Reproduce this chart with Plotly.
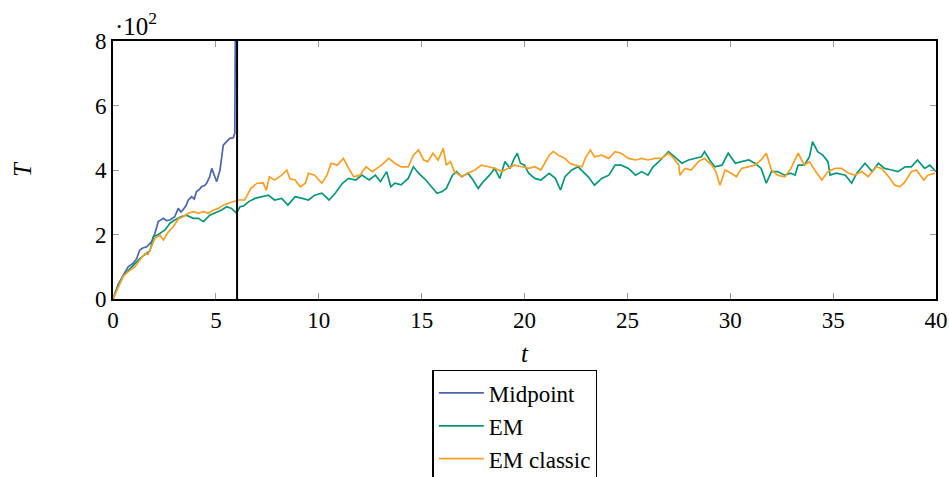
import plotly.graph_objects as go

# ---- data (T values) ----
t_mid = [0, 0.25, 0.5, 0.74, 0.98, 1.15, 1.3, 1.45, 1.64, 1.88, 2.04, 2.2, 2.45, 2.6, 2.77, 3.0,
         3.17, 3.3, 3.4, 3.55, 3.66, 3.82, 3.95, 4.06, 4.2, 4.3, 4.45, 4.55, 4.7, 4.8, 4.95, 5.04,
         5.2, 5.36, 5.52, 5.68, 5.85, 5.92, 5.96]
T_mid = [0, 45, 74, 100, 111, 125, 152, 158, 162, 178, 204, 240, 250, 243, 245, 255,
         281, 270, 276, 290, 307, 317, 310, 333, 340, 348, 352, 359, 379, 405, 379, 364,
         400, 477, 488, 498, 500, 515, 1000]

t_em = [0, 0.25, 0.5, 0.75, 1.0, 1.3, 1.6, 1.8, 1.96, 2.2, 2.53, 2.77, 3.0, 3.3, 3.57, 3.9, 4.15,
        4.4, 4.7, 4.95, 5.28, 5.52, 5.76, 6.0, 6.17, 6.33, 6.6, 6.9, 7.2, 7.55, 7.85, 8.2, 8.5,
        8.85, 9.2, 9.5, 9.8, 10.15, 10.5, 10.8, 11.15, 11.45, 11.8, 12.1, 12.45, 12.75, 13.0,
        13.3, 13.5, 13.7, 14.0, 14.35, 14.6, 14.85, 15.2, 15.5, 15.75, 16.0, 16.2, 16.5, 16.7,
        16.95, 17.25, 17.5, 17.75, 18.0, 18.3, 18.55, 18.8, 19.05, 19.3, 19.5, 19.65, 19.8, 20.0,
        20.2, 20.5, 20.8, 21.2, 21.5, 21.75, 21.97, 22.3, 22.6, 22.9, 23.1, 23.4, 23.75, 24.1,
        24.4, 24.7, 25.05, 25.4, 25.7, 26.0, 26.25, 26.45, 26.66, 27.0, 27.3, 27.65, 27.97, 28.3,
        28.6, 28.75, 29.0, 29.25, 29.6, 29.9, 30.25, 30.55, 30.9, 31.2, 31.5, 31.75, 32.0, 32.3,
        32.65, 32.95, 33.15, 33.3, 33.6, 33.85, 34.0, 34.25, 34.5, 34.75, 34.85, 35.15, 35.6,
        35.9, 36.15, 36.55, 36.9, 37.2, 37.5, 37.85, 38.15, 38.5, 38.8, 39.1, 39.45, 39.7, 40.0]
T_em = [0, 40, 72, 90, 105, 125, 140, 150, 193, 200, 214, 235, 245, 255, 260, 250, 250,
        240, 260, 266, 276, 286, 281, 266, 286, 288, 302, 312, 317, 322, 307, 312, 291,
        317, 312, 307, 322, 328, 307, 328, 359, 374, 369, 384, 369, 384, 364,
        395, 348, 359, 354, 374, 410, 390, 369, 348, 328, 333, 343, 384, 395,
        379, 390, 369, 343, 364, 384, 405, 374, 426, 405, 436, 452, 421, 415,
        390, 374, 369, 390, 374, 338, 379, 400, 410, 390, 379, 353, 374, 384,
        415, 415, 405, 384, 395, 384, 410, 421, 436, 457, 441, 421, 431, 436,
        441, 457, 431, 410, 415, 452, 421, 426, 431, 421, 405, 359, 395, 395,
        384, 390, 384, 415, 415, 441, 488, 457, 446, 426, 384, 390, 384,
        359, 390, 421, 395, 421, 405, 400, 395, 410, 410, 431, 405, 415, 395]

t_emc = [0, 0.26, 0.5, 0.74, 1.07, 1.3, 1.56, 1.7, 1.8, 2.04, 2.28, 2.45, 2.7, 2.93, 3.17, 3.4,
         3.66, 3.9, 4.15, 4.4, 4.63, 4.88, 5.12, 5.36, 5.6, 5.85, 6.1, 6.4, 6.7, 7.0, 7.3, 7.45,
         7.6, 7.85, 8.2, 8.45, 8.6, 8.85, 9.1, 9.35, 9.5, 9.8, 10.15, 10.4, 10.6, 10.9, 11.2,
         11.45, 11.7, 12.0, 12.3, 12.6, 12.9, 13.05, 13.4, 13.7, 14.0, 14.35, 14.6, 14.85, 15.1,
         15.3, 15.55, 15.8, 16.05, 16.2, 16.4, 16.6, 16.95, 17.25, 17.6, 17.9, 18.25, 18.55,
         18.9, 19.2, 19.5, 19.86, 20.2, 20.5, 20.8, 21.2, 21.4, 21.65, 21.97, 22.2, 22.45, 22.8,
         22.95, 23.2, 23.4, 23.75, 24.1, 24.4, 24.7, 25.05, 25.4, 25.7, 26.0, 26.35, 26.66, 27.0,
         27.25, 27.5, 27.55, 27.8, 28.1, 28.45, 28.75, 29.1, 29.3, 29.5, 29.75, 30.05, 30.3,
         30.55, 30.9, 31.2, 31.5, 31.75, 32.0, 32.3, 32.65, 32.95, 33.3, 33.6, 33.85, 34.1,
         34.45, 34.75, 35.1, 35.4, 35.75, 36.05, 36.4, 36.7, 37.1, 37.35, 37.7, 38.0, 38.25,
         38.5, 38.8, 39.05, 39.4, 39.6, 39.95]
T_emc = [0, 38, 71, 85, 100, 121, 141, 138, 152, 188, 198, 183, 209, 224, 248, 255,
         266, 271, 266, 271, 266, 276, 281, 291, 297, 302, 307, 307, 343, 359, 360, 337,
         379, 369, 384, 400, 373, 369, 348, 359, 390, 384, 359, 384, 421, 415, 436,
         405, 379, 384, 410, 395, 410, 415, 436, 421, 410, 410, 446, 462, 431,
         426, 452, 431, 467, 415, 426, 395, 379, 390, 400, 415, 410, 405,
         395, 405, 415, 410, 405, 410, 400, 446, 457, 446, 436, 421, 415, 410,
         436, 462, 441, 446, 436, 457, 452, 436, 431, 436, 431, 436, 436, 452,
         436, 415, 384, 405, 400, 426, 436, 415, 395, 353, 400, 390, 379,
         405, 410, 415, 431, 452, 400, 384, 379, 405, 452, 415, 426, 400,
         369, 395, 405, 405, 390, 384, 395, 379, 410, 405, 379, 353, 348,
         364, 395, 400, 369, 384, 390]

t_blowup = [6.03, 6.03]
T_blowup = [0, 800]

x_ticks = [0, 5, 10, 15, 20, 25, 30, 35, 40]
y_ticks = [0, 200, 400, 600, 800]
y_tick_labels = ["0", "2", "4", "6", "8"]

BLUE = "#4a64ae"
GREEN = "#07967b"
ORANGE = "#f59f24"
SERIF = "Liberation Serif"

fig = go.Figure()
fig.add_trace(go.Scatter(x=t_mid, y=T_mid, mode="lines", name="Midpoint",
                         line=dict(color=BLUE, width=1.7), legendgroup="a"))
fig.add_trace(go.Scatter(x=t_em, y=T_em, mode="lines", name="EM",
                         line=dict(color=GREEN, width=1.7), legendgroup="b"))
fig.add_trace(go.Scatter(x=t_emc, y=T_emc, mode="lines", name="EM classic",
                         line=dict(color=ORANGE, width=1.7), legendgroup="c"))
fig.add_trace(go.Scatter(x=t_blowup, y=T_blowup, mode="lines", showlegend=False,
                         line=dict(color="black", width=2)))

axis_common = dict(showgrid=False, zeroline=False, showline=True, linecolor="black",
                   linewidth=1.6, mirror="ticks", ticks="inside", ticklen=6,
                   tickcolor="#999999", tickwidth=1, automargin=False,
                   tickfont=dict(family=SERIF, size=23, color="black"))

fig.update_layout(
    width=949, height=477,
    margin=dict(l=113, r=13, t=41, b=178, autoexpand=False),
    paper_bgcolor="white", plot_bgcolor="white",
    xaxis=dict(range=[0, 40], tickvals=x_ticks, **axis_common,
               title=dict(text="<i>t</i>", font=dict(family=SERIF, size=25, color="black"),
                          standoff=12)),
    yaxis=dict(range=[0, 800], tickvals=y_ticks, ticktext=y_tick_labels, **axis_common,
               title=dict(text="<i>T</i>", font=dict(family=SERIF, size=25, color="black"),
                          standoff=56)),
    legend=dict(x=0.388, y=-0.275, xanchor="left", yanchor="top",
                bordercolor="black", borderwidth=1.5, bgcolor="white",
                font=dict(family=SERIF, size=23, color="black"),
                tracegroupgap=0, itemwidth=45),
    annotations=[dict(text="·10<sup>2</sup>", xref="paper", yref="paper", x=0, y=1.065,
                      xanchor="left", yanchor="middle", showarrow=False,
                      font=dict(family=SERIF, size=25, color="black"))],
)

fig.write_html("out.html")
